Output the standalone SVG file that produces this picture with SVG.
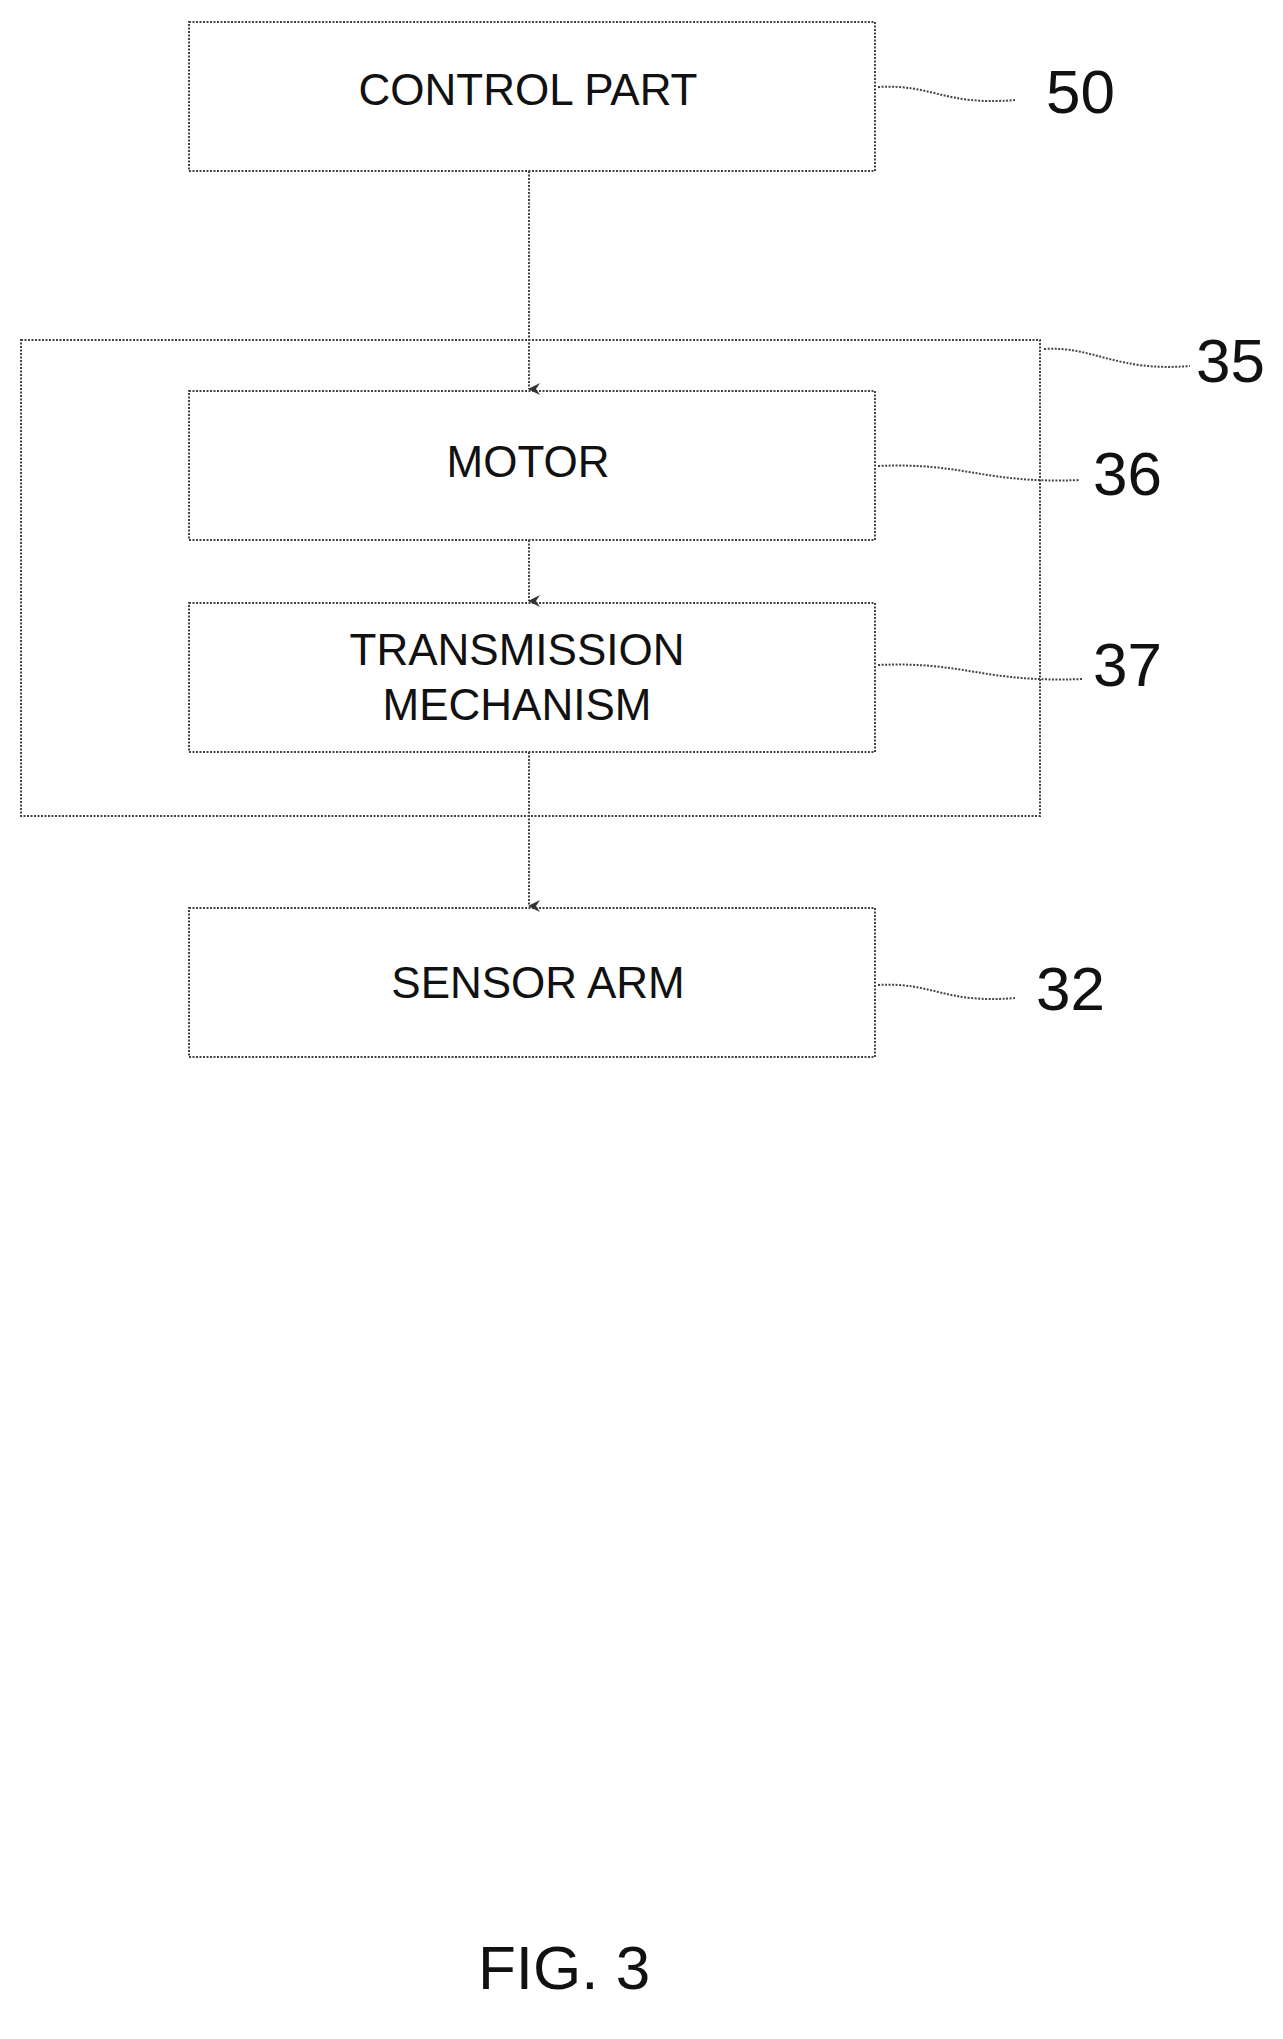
<svg xmlns="http://www.w3.org/2000/svg" width="1283" height="2039" viewBox="0 0 1283 2039">
<style>
.box{fill:none;stroke:#444;stroke-width:2;stroke-dasharray:2 1.5}
.t{font-family:"Liberation Sans",Arial,sans-serif;font-size:44px;fill:#111;text-anchor:middle}
.n{font-family:"Liberation Sans",Arial,sans-serif;font-size:62px;fill:#111}
.lead{fill:none;stroke:#444;stroke-width:2;stroke-dasharray:2 1.5}
.c{stroke:#444;stroke-width:2;stroke-dasharray:2 1.5;fill:none;marker-end:url(#a)}
</style>
<defs><marker id="a" markerWidth="16" markerHeight="16" refX="8" refY="14" orient="auto" markerUnits="userSpaceOnUse"><path d="M2,3 L8,15 L14,3 L8,7 Z" fill="#333"/></marker></defs>
<rect width="1283" height="2039" fill="#fff"/>
<g id="n50"><rect class="box" x="189" y="22" width="686" height="149"/><text class="t" x="528" y="105">CONTROL PART</text></g>
<g id="n35"><rect class="box" x="21" y="340" width="1019" height="476"/></g>
<g id="n36"><rect class="box" x="189" y="391" width="686" height="149"/><text class="t" x="528" y="477">MOTOR</text></g>
<g id="n37"><rect class="box" x="189" y="603" width="686" height="149"/><text class="t" x="517" y="665">TRANSMISSION</text><text class="t" x="517" y="720">MECHANISM</text></g>
<g id="n32"><rect class="box" x="189" y="908" width="686" height="149"/><text class="t" x="538" y="998">SENSOR ARM</text></g>
<g id="connectors">
<path class="c" d="M529,171 V389"/>
<path class="c" d="M529,540 V601"/>
<path class="c" d="M529,752 V906"/>
<path class="lead" d="M878,87 C934,84 944,106 1015,100"/>
<path class="lead" d="M1044,349 C1095,346 1115,372 1190,366"/>
<path class="lead" d="M878,466 C964,462 984,484 1080,480"/>
<path class="lead" d="M878,665 C964,661 984,683 1082,679"/>
<path class="lead" d="M878,985 C934,982 944,1004 1015,998"/>
</g>
<g id="labels">
<text class="n" x="1046" y="113">50</text>
<text class="n" x="1196" y="382">35</text>
<text class="n" x="1093" y="495">36</text>
<text class="n" x="1093" y="686">37</text>
<text class="n" x="1036" y="1010">32</text>
<text class="n" x="478" y="1989">FIG. 3</text>
</g>
</svg>
